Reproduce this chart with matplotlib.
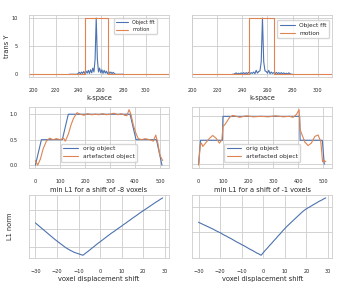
import numpy as np
import matplotlib
matplotlib.use("Agg")
import matplotlib.pyplot as plt
import seaborn as sns

sns.set_theme(style="whitegrid")
plt.rcParams["font.family"] = ["DejaVu Sans"]

# k-space profiles (centre region, zero elsewhere)
fft_k = list(range(232, 281))
fft_left = [0, 0, 0, 0, 0, 0, 0, 0,
            0.15, 0.35, 0.1, 0.4, 0.15, 0.5, 0.1, 0.55, 0.2, 0.7, 0.15, 0.8, 0.25, 1.1, 0.4, 2.7,
            10.0,
            2.7, 0.4, 1.1, 0.25, 0.8, 0.15, 0.7, 0.2, 0.55, 0.1, 0.5, 0.15, 0.4, 0.1, 0.35, 0.15,
            0, 0, 0, 0, 0, 0, 0, 0]
fft_right = [0, 0, 0.1, 0.25, 0.05, 0.2, 0.05, 0.25,
             0.1, 0.3, 0.05, 0.3, 0.1, 0.35, 0.05, 0.3, 0.15, 0.4, 0.1, 0.7, 0.2, 0.5, 0.6, 2.2,
             10.0,
             2.2, 0.6, 0.5, 0.2, 0.7, 0.1, 0.4, 0.15, 0.3, 0.05, 0.35, 0.1, 0.3, 0.05, 0.3, 0.1,
             0.25, 0.05, 0.2, 0.05, 0.25, 0.1, 0, 0]
motion_k = [150, 246, 246, 266, 266, 400]
motion_left = [0, 0, 10, 10, 0, 0]
motion_k_r = [150, 245, 245, 265, 265, 400]
motion_right = [0, 0, 10, 10, 0, 0]

# image profiles
orig_x_l = [0, 24, 108, 132, 380, 404, 486, 508]
orig_y_l = [0, 0.5, 0.5, 1, 1, 0.5, 0.5, 0]
art_x_l = [0, 9, 20, 31, 44, 57, 71, 84, 100, 113, 120, 133, 143, 153, 167, 180, 195, 210,
           225, 240, 255, 270, 285, 300, 315, 330, 345, 358, 367, 376, 384, 393, 404, 413,
           427, 440, 460, 473, 483, 491, 500, 511]
art_y_l = [0.09, 0.0, 0.12, 0.32, 0.47, 0.53, 0.50, 0.52, 0.50, 0.53, 0.47, 0.62, 0.79, 0.92,
           1.03, 1.0, 0.98, 1.01, 0.99, 1.0, 0.99, 1.01, 0.99, 1.0, 1.02, 0.99, 1.01, 0.98,
           0.97, 1.09, 0.99, 0.79, 0.62, 0.52, 0.50, 0.52, 0.50, 0.47, 0.59, 0.45, 0.19, 0.09]

orig_x_r = [0, 8, 96, 98, 406, 408, 497, 505]
orig_y_r = [0, 0.5, 0.5, 1, 1, 0.5, 0.5, 0]
art_x_r = [0, 4, 7, 12, 17, 28, 44, 57, 71, 84, 94, 98, 105, 114, 125, 138, 165, 192, 220,
           250, 280, 310, 340, 365, 380, 393, 404, 408, 413, 427, 440, 453, 467, 480, 491,
           498, 503, 511]
art_y_r = [-0.02, 0.2, 0.40, 0.44, 0.37, 0.44, 0.54, 0.60, 0.54, 0.44, 0.51, 0.79, 0.82, 0.89,
           0.98, 1.02, 0.98, 1.01, 0.99, 1.0, 0.99, 1.01, 0.99, 1.0, 0.98, 1.04, 1.14, 0.72,
           0.65, 0.46, 0.39, 0.44, 0.58, 0.61, 0.47, 0.05, 0.08, 0.05]

# L1 norm vs shift
shifts = list(range(-30, 30))
l1_left = [53.1, 52.1, 51.1, 50.1, 49.1, 48.1, 47.1, 46.1, 45.1, 44.1,
           43.2, 42.3, 41.4, 40.5, 39.6, 38.9, 38.2, 37.6, 37.0, 36.6,
           36.2, 35.8, 35.4, 36.3, 37.2, 38.1, 39.1, 40.0, 41.0, 41.9,
           42.8, 43.7, 44.6, 45.5, 46.4, 47.3, 48.1, 48.9, 49.8, 50.6,
           51.4, 52.3, 53.1, 54.0, 54.8, 55.7, 56.5, 57.3, 58.2, 59.0,
           59.8, 60.6, 61.4, 62.2, 63.0, 63.8, 64.6, 65.3, 66.1, 66.8]
l1_right = [44.0, 43.6, 43.2, 42.8, 42.4, 42.0, 41.6, 41.2, 40.7, 40.3,
            39.9, 39.4, 38.9, 38.5, 38.0, 37.6, 37.1, 36.6, 36.1, 35.7,
            35.2, 34.8, 34.3, 33.8, 33.3, 32.9, 32.4, 31.9, 31.5, 31.0,
            32.0, 33.0, 33.9, 34.9, 35.8, 36.8, 37.7, 38.7, 39.6, 40.6,
            41.5, 42.4, 43.2, 44.0, 44.8, 45.6, 46.4, 47.2, 48.0, 48.7,
            49.3, 49.8, 50.3, 50.8, 51.3, 51.8, 52.3, 52.7, 53.2, 53.6]
best_shift = [-8, -1]

blue = "#4C72B0"
orange = "#DD8452"
tick_fs = 3.6
lab_fs = 4.8
lw = 0.8

fig = plt.figure(figsize=(3.5, 2.92), dpi=100)
lefts = [0.083, 0.549]
w = 0.4
rows = [(0.736, 0.212), (0.425, 0.209), (0.116, 0.216)]

axes = [[fig.add_axes([l, b, w, h]) for l in lefts] for b, h in rows]
for row in axes:
    for ax in row:
        ax.tick_params(labelsize=tick_fs, pad=2)
        ax.grid(True, lw=0.6)
        for s in ax.spines.values():
            s.set_linewidth(0.6)

# top row
top_cfg = [(axes[0][0], fft_left, motion_k, motion_left, (196.5, 320.5), 3.5, (0.914, 0.955)),
           (axes[0][1], fft_right, motion_k_r, motion_right, (200, 311.5), 4.2, (0.979, 0.92))]
for ax, fv, mk, mv, xl, lfs, anchor in top_cfg:
    ax.plot(fft_k, fv, color=blue, lw=lw, label="Object fft")
    ax.plot(mk, mv, color=orange, lw=lw, label="motion")
    ax.set_xlim(*xl)
    ax.set_ylim(-0.5, 10.5)
    ax.set_yticks([0, 5, 10])
    ax.set_xticks([200, 220, 240, 260, 280, 300])
    ax.set_xlabel("k-space", fontsize=lab_fs, labelpad=1)
    ax.legend(loc="upper right", bbox_to_anchor=anchor, borderaxespad=0,
              fontsize=lfs, handlelength=2.6, framealpha=0.8)
axes[0][0].set_ylabel("trans Y", fontsize=lab_fs)
axes[0][0].yaxis.set_label_coords(-0.136, 0.5)
axes[0][1].set_yticklabels([])

# middle row
for ax, ox, oy, axx, ay in [(axes[1][0], orig_x_l, orig_y_l, art_x_l, art_y_l),
                            (axes[1][1], orig_x_r, orig_y_r, art_x_r, art_y_r)]:
    ax.plot(ox, oy, color=blue, lw=lw, label="orig object")
    ax.plot(axx, ay, color=orange, lw=lw, label="artefacted object")
    ax.set_yticks([0, 0.5, 1.0])
    ax.set_xticks([0, 100, 200, 300, 400, 500])
    ax.legend(loc="lower center", bbox_to_anchor=(0.5, 0.1), borderaxespad=0,
              fontsize=4.3, handlelength=2.4, framealpha=0.8)
axes[1][1].set_yticklabels([])

# bottom row
for ax, l1, bs, yt in [(axes[2][0], l1_left, best_shift[0], [40, 50, 60]),
                       (axes[2][1], l1_right, best_shift[1], [30, 40, 50])]:
    ax.plot(shifts, l1, color=blue, lw=lw)
    ax.set_yticks(yt)
    ax.set_yticklabels([])
    ax.set_xticks([-30, -20, -10, 0, 10, 20, 30])
    ax.set_title("min L1 for a shift of %d voxels" % bs, fontsize=lab_fs, pad=2)
    ax.set_xlabel("voxel displacement shift", fontsize=lab_fs, labelpad=1)
axes[2][0].set_ylabel("L1 norm", fontsize=lab_fs)
axes[2][0].yaxis.set_label_coords(-0.114, 0.5)

fig.savefig("out.png", dpi=100)
